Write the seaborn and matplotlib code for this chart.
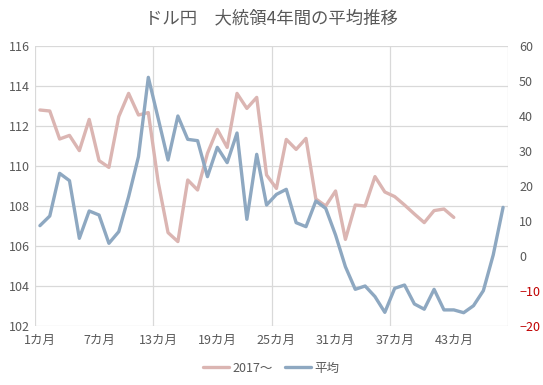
import matplotlib
matplotlib.use("Agg")
import matplotlib.pyplot as plt
import seaborn as sns
import numpy as np
import pandas as pd
from matplotlib.ticker import FixedLocator

sns.set_theme(style="white")
plt.rcParams['font.family'] = ['Noto Sans CJK JP', 'DejaVu Sans']

title = "ドル円　大統領4年間の平均推移"
series_2017_name = "2017～"
series_avg_name = "平均"

# 2017~ (left axis, USD/JPY)
usd_jpy_2017 = [112.8, 112.75, 111.35, 111.53, 110.77, 112.33, 110.27, 109.93, 112.47, 113.63,
                112.55, 112.67, 109.2, 106.67, 106.22, 109.3, 108.8, 110.63, 111.83, 110.93,
                113.63, 112.88, 113.43, 109.55, 108.88, 111.33, 110.83, 111.38, 108.35, 108.0,
                108.75, 106.33, 108.05, 108.0, 109.47, 108.7, 108.47, 108.05, 107.6, 107.17,
                107.77, 107.85, 107.43]
# average (right axis)
avg_change = [8.67, 11.43, 23.62, 21.52, 5.05, 12.86, 11.71, 3.62, 6.95, 16.95,
              28.38, 51.05, 39.3, 27.43, 40.0, 33.33, 32.95, 22.67, 31.05, 26.67,
              35.14, 10.48, 29.05, 14.57, 17.6, 19.05, 9.52, 8.38, 15.71, 13.62,
              6.0, -3.05, -9.52, -8.57, -11.6, -16.1, -9.24, -8.29, -13.7, -15.2,
              -9.52, -15.4, -15.4, -16.2, -14.2, -9.9, 0.29, 13.9]
months = list(range(1, len(avg_change) + 1))
tick_months = [1, 7, 13, 19, 25, 31, 37, 43]
tick_labels = [f"{m}カ月" for m in tick_months]
left_ticks = [102, 104, 106, 108, 110, 112, 114, 116]
right_ticks = [-20, -10, 0, 10, 20, 30, 40, 50, 60]

pink = "#dbb5b2"
blue = "#8ea8c1"
grid_c = "#d9d9d9"
text_c = "#595959"

df1 = pd.DataFrame({"month": months[:len(usd_jpy_2017)], "val": usd_jpy_2017})
df2 = pd.DataFrame({"month": months, "val": avg_change})

fig = plt.figure(figsize=(5.43, 3.85), dpi=100)
ax = fig.add_axes([35/543, 1-326/385, 473/543, 280/385])
ax2 = ax.twinx()

sns.lineplot(data=df1, x="month", y="val", ax=ax, color=pink, linewidth=2.4, legend=False)
sns.lineplot(data=df2, x="month", y="val", ax=ax2, color=blue, linewidth=2.4, legend=False)

n = len(months)
ax.set_xlim(0.5, n + 0.5)
ax.set_ylim(102, 116)
ax2.set_ylim(-20, 60)
ax.set_yticks(left_ticks)
ax2.set_yticks(right_ticks)
ax.set_xticks(tick_months)
ax.set_xticklabels(tick_labels)
ax.xaxis.set_minor_locator(FixedLocator(list(np.arange(0.5, n + 1, 12))))

ax.grid(True, axis="y", color=grid_c, linewidth=0.9)
ax.grid(True, axis="x", which="minor", color=grid_c, linewidth=0.9)
ax.grid(False, axis="x", which="major")
ax2.grid(False)
ax.set_axisbelow(True)
ax2.set_zorder(ax.get_zorder() + 1)
ax2.patch.set_visible(False)

for a in (ax, ax2):
    for s in a.spines.values():
        s.set_visible(False)
    a.set_xlabel("")
    a.set_ylabel("")
ax.tick_params(axis="both", which="both", length=0, labelsize=9, colors=text_c, pad=4)
ax.tick_params(axis="x", pad=6)
ax2.tick_params(axis="y", length=0, labelsize=9, colors=text_c, pad=8)
for lbl, v in zip(ax2.get_yticklabels(), right_ticks):
    if v < 0:
        lbl.set_color("#c00000")

fig.text(271/543, 1-18/385, title, ha="center", va="center", fontsize=12.5, color=text_c)

handles = [ax.lines[0], ax2.lines[0]]
fig.legend(handles, [series_2017_name, series_avg_name], loc="center",
           bbox_to_anchor=(271/543, 1-368/385), ncol=2, frameon=False,
           fontsize=9, handlelength=2.1, handletextpad=0.25, columnspacing=1.0,
           labelcolor=text_c)

fig.savefig("out.png", dpi=100)
